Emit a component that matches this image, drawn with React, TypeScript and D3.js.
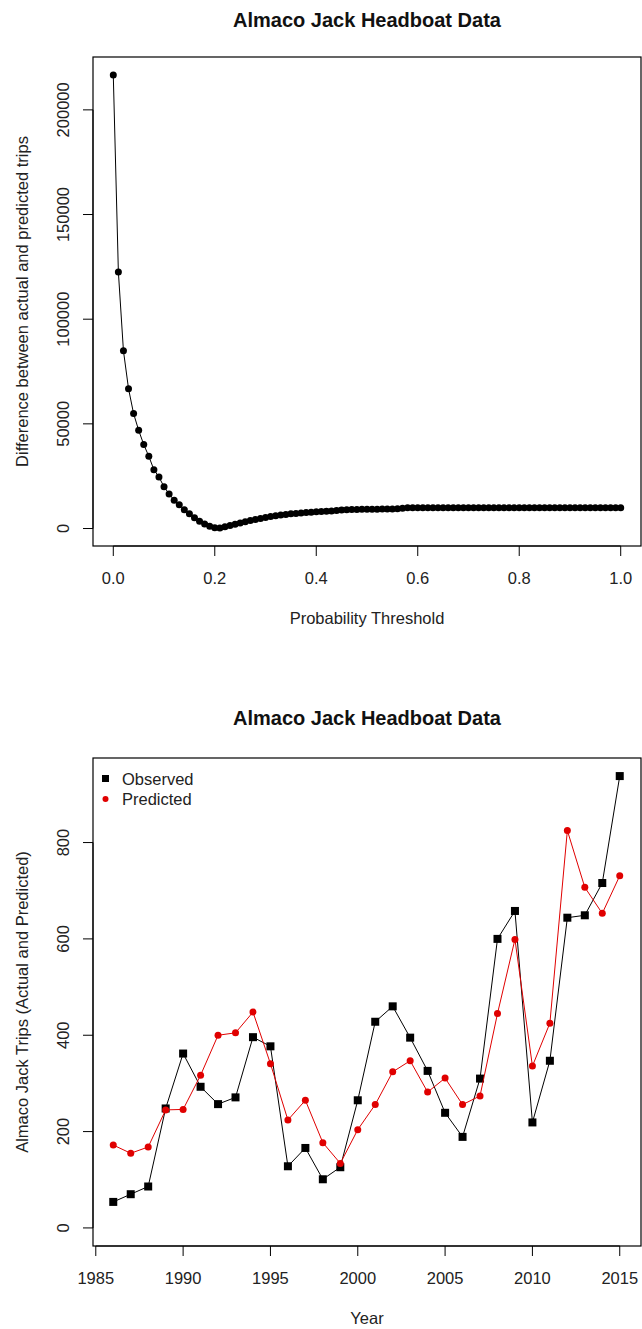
import React from "react";
import * as d3 from "d3";

// ---------- Data ----------
const thresholds: number[] = [
  0.0, 0.01, 0.02, 0.03, 0.04, 0.05, 0.06, 0.07, 0.08, 0.09,
  0.1, 0.11, 0.12, 0.13, 0.14, 0.15, 0.16, 0.17, 0.18, 0.19,
  0.2, 0.21, 0.22, 0.23, 0.24, 0.25, 0.26, 0.27, 0.28, 0.29,
  0.3, 0.31, 0.32, 0.33, 0.34, 0.35, 0.36, 0.37, 0.38, 0.39,
  0.4, 0.41, 0.42, 0.43, 0.44, 0.45, 0.46, 0.47, 0.48, 0.49,
  0.5, 0.51, 0.52, 0.53, 0.54, 0.55, 0.56, 0.57, 0.58, 0.59,
  0.6, 0.61, 0.62, 0.63, 0.64, 0.65, 0.66, 0.67, 0.68, 0.69,
  0.7, 0.71, 0.72, 0.73, 0.74, 0.75, 0.76, 0.77, 0.78, 0.79,
  0.8, 0.81, 0.82, 0.83, 0.84, 0.85, 0.86, 0.87, 0.88, 0.89,
  0.9, 0.91, 0.92, 0.93, 0.94, 0.95, 0.96, 0.97, 0.98, 0.99,
  1.0,
];

const differences: number[] = [
  216600, 122600, 84900, 66800, 54900, 46900, 40100, 34500, 28100, 24600,
  19900, 16500, 13500, 11300, 9000, 7000, 5100, 3500, 2200, 1100,
  400, 300, 800, 1400, 2000, 2600, 3200, 3800, 4300, 4800,
  5300, 5700, 6100, 6400, 6700, 7000, 7200, 7400, 7600, 7800,
  8000, 8100, 8300, 8400, 8600, 8800, 9000, 9100, 9100, 9200,
  9200, 9200, 9200, 9300, 9300, 9300, 9400, 9700, 9900, 9900,
  9900, 9900, 9900, 9900, 9900, 9900, 9900, 9900, 9900, 9900,
  9900, 9900, 9900, 9900, 9900, 9900, 9900, 9900, 9900, 9900,
  9900, 9900, 9900, 9900, 9900, 9900, 9900, 9900, 9900, 9900,
  9900, 9900, 9900, 9900, 9900, 9900, 9900, 9900, 9900, 9900,
  9900,
];

const topXTicks: number[] = [0, 0.2, 0.4, 0.6, 0.8, 1.0];
const topXTickLabels: string[] = ["0.0", "0.2", "0.4", "0.6", "0.8", "1.0"];
const topYTicks: number[] = [0, 50000, 100000, 150000, 200000];
const topYTickLabels: string[] = ["0", "50000", "100000", "150000", "200000"];

const years: number[] = [
  1986, 1987, 1988, 1989, 1990, 1991, 1992, 1993, 1994, 1995,
  1996, 1997, 1998, 1999, 2000, 2001, 2002, 2003, 2004, 2005,
  2006, 2007, 2008, 2009, 2010, 2011, 2012, 2013, 2014, 2015,
];

const observed: number[] = [
  54, 70, 86, 248, 362, 293, 257, 271, 396, 377,
  128, 166, 101, 126, 265, 428, 460, 395, 326, 239,
  189, 310, 600, 658, 219, 347, 644, 649, 716, 938,
];

const predicted: number[] = [
  172, 155, 168, 245, 246, 317, 400, 405, 448, 341,
  224, 265, 177, 134, 204, 256, 324, 347, 282, 311,
  256, 274, 445, 599, 336, 425, 825, 707, 653, 731,
];

const botXTicks: number[] = [1985, 1990, 1995, 2000, 2005, 2010, 2015];
const botYTicks: number[] = [0, 200, 400, 600, 800];

const title = "Almaco Jack Headboat Data";
const legendLabels: string[] = ["Observed", "Predicted"];

// ---------- Helpers ----------
const FONT = "'Liberation Sans', Arial, sans-serif";
const TEXT = "#222";

function rPad(lo: number, hi: number): [number, number] {
  const p = (hi - lo) * 0.04;
  return [lo - p, hi + p];
}

export default function App() {
  const left = 93;
  const right = 641;

  // Top plot
  const t = { top: 57, bottom: 546 };
  const xT = d3.scaleLinear().domain(rPad(0, 1)).range([left, right]);
  const yExt = d3.extent(differences) as [number, number];
  const yT = d3.scaleLinear().domain(rPad(yExt[0], yExt[1])).range([t.bottom, t.top]);
  const lineT = d3
    .line<number>()
    .x((_, i) => xT(thresholds[i]))
    .y((d) => yT(d));

  // Bottom plot
  const b = { top: 758, bottom: 1246 };
  const xB = d3.scaleLinear().domain(rPad(years[0], years[years.length - 1])).range([left, right - 1]);
  const maxB = Math.max(d3.max(observed) as number, d3.max(predicted) as number);
  const yB = d3.scaleLinear().domain(rPad(0, maxB)).range([b.bottom, b.top]);
  const lineB = d3
    .line<number>()
    .x((_, i) => xB(years[i]))
    .y((d) => yB(d));

  const tick = 10;
  const labelFs = 16.5;

  const xAxis = (
    scale: d3.ScaleLinear<number, number>,
    ticks: number[],
    labels: string[],
    y0: number
  ) => (
    <g>
      <line x1={scale(ticks[0])} x2={scale(ticks[ticks.length - 1])} y1={y0} y2={y0} stroke="#000" />
      {ticks.map((v, i) => (
        <g key={i}>
          <line x1={scale(v)} x2={scale(v)} y1={y0} y2={y0 + tick} stroke="#000" />
          <text
            x={scale(v)}
            y={y0 + 32}
            textAnchor="middle"
            dominantBaseline="central"
            fontSize={labelFs}
            fill={TEXT}
            fontFamily={FONT}
          >
            {labels[i]}
          </text>
        </g>
      ))}
    </g>
  );

  const yAxis = (
    scale: d3.ScaleLinear<number, number>,
    ticks: number[],
    labels: string[],
    x0: number
  ) => (
    <g>
      <line x1={x0} x2={x0} y1={scale(ticks[0])} y2={scale(ticks[ticks.length - 1])} stroke="#000" />
      {ticks.map((v, i) => (
        <g key={i}>
          <line x1={x0 - tick} x2={x0} y1={scale(v)} y2={scale(v)} stroke="#000" />
          <text
            transform={`translate(${x0 - 30},${scale(v)}) rotate(-90)`}
            textAnchor="middle"
            dominantBaseline="central"
            fontSize={labelFs}
            fill={TEXT}
            fontFamily={FONT}
          >
            {labels[i]}
          </text>
        </g>
      ))}
    </g>
  );

  return (
    <svg
      width={642}
      height={1329}
      style={{ position: "absolute", left: 0, top: 0, background: "#fff" }}
    >
      <rect x={0} y={0} width={642} height={1329} fill="#fff" />

      {/* ---------- Top plot ---------- */}
      <text x={(left + right) / 2} y={20} textAnchor="middle" dominantBaseline="central"
        fontSize={20} fontWeight="bold" fill="#111" fontFamily={FONT}>
        {title}
      </text>
      <rect x={left} y={t.top} width={right - left} height={t.bottom - t.top} fill="none" stroke="#000" strokeWidth={1.2} />
      {xAxis(xT, topXTicks, topXTickLabels, t.bottom)}
      {yAxis(yT, topYTicks, topYTickLabels, left)}
      <text x={(left + right) / 2} y={t.bottom + 72} textAnchor="middle" dominantBaseline="central"
        fontSize={labelFs} fill={TEXT} fontFamily={FONT}>
        Probability Threshold
      </text>
      <text transform={`translate(22,${(t.top + t.bottom) / 2}) rotate(-90)`} textAnchor="middle"
        dominantBaseline="central" fontSize={labelFs} fill={TEXT} fontFamily={FONT}>
        Difference between actual and predicted trips
      </text>
      <path d={lineT(differences) || ""} fill="none" stroke="#000" strokeWidth={1} />
      {differences.map((d, i) => (
        <circle key={i} cx={xT(thresholds[i])} cy={yT(d)} r={3.5} fill="#000" />
      ))}

      {/* ---------- Bottom plot ---------- */}
      <text x={(left + right) / 2} y={718} textAnchor="middle" dominantBaseline="central"
        fontSize={20} fontWeight="bold" fill="#111" fontFamily={FONT}>
        {title}
      </text>
      <rect x={left} y={b.top} width={right - left} height={b.bottom - b.top} fill="none" stroke="#000" strokeWidth={1.2} />
      {xAxis(xB, botXTicks, botXTicks.map(String), b.bottom)}
      {yAxis(yB, botYTicks, botYTicks.map(String), left)}
      <text x={(left + right) / 2} y={b.bottom + 72} textAnchor="middle" dominantBaseline="central"
        fontSize={labelFs} fill={TEXT} fontFamily={FONT}>
        Year
      </text>
      <text transform={`translate(22,${(b.top + b.bottom) / 2}) rotate(-90)`} textAnchor="middle"
        dominantBaseline="central" fontSize={labelFs} fill={TEXT} fontFamily={FONT}>
        Almaco Jack Trips (Actual and Predicted)
      </text>

      <path d={lineB(observed) || ""} fill="none" stroke="#000" strokeWidth={1} />
      {observed.map((d, i) => (
        <rect key={i} x={xB(years[i]) - 4} y={yB(d) - 4} width={8} height={8} fill="#000" />
      ))}
      <path d={lineB(predicted) || ""} fill="none" stroke="#e00000" strokeWidth={1} />
      {predicted.map((d, i) => (
        <circle key={i} cx={xB(years[i])} cy={yB(d)} r={3.5} fill="#e00000" />
      ))}

      {/* Legend */}
      <rect x={102} y={775} width={7} height={7} fill="#000" />
      <text x={122} y={779} dominantBaseline="central" fontSize={labelFs} fill={TEXT} fontFamily={FONT}>
        {legendLabels[0]}
      </text>
      <circle cx={105.5} cy={799} r={3} fill="#e00000" />
      <text x={122} y={799} dominantBaseline="central" fontSize={labelFs} fill={TEXT} fontFamily={FONT}>
        {legendLabels[1]}
      </text>
    </svg>
  );
}
